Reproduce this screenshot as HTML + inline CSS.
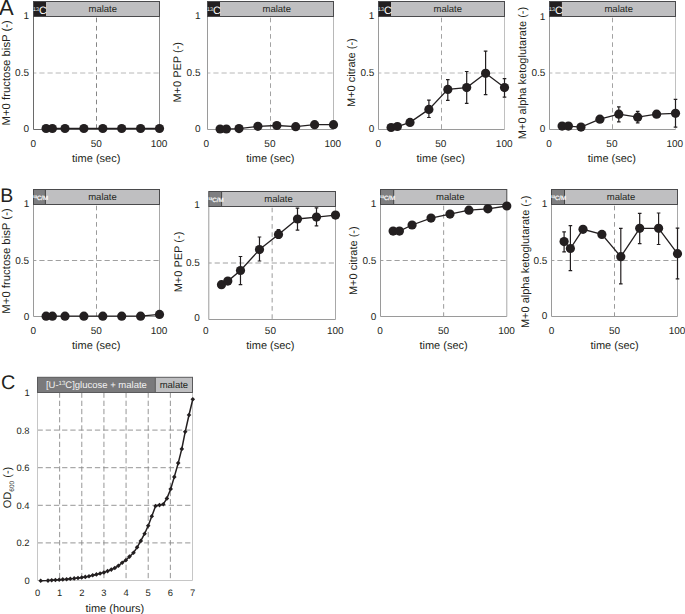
<!DOCTYPE html>
<html><head><meta charset="utf-8"><style>
html,body{margin:0;padding:0;background:#fff;}
body{width:685px;height:614px;overflow:hidden;}
svg{display:block;font-family:"Liberation Sans", sans-serif;text-rendering:geometricPrecision;}
</style></head><body>
<svg width="685" height="614" viewBox="0 0 685 614">
<rect width="685" height="614" fill="#fff"/>
<line x1="33.5" y1="73" x2="159.5" y2="73" stroke="#b8b8b8" stroke-width="1" stroke-dasharray="5.2 2.95" stroke-dashoffset="2.3"/>
<line x1="96.5" y1="17.7" x2="96.5" y2="129.5" stroke="#858585" stroke-width="1" stroke-dasharray="4.6 3.6"/>
<line x1="159.5" y1="16.5" x2="159.5" y2="129.5" stroke="#8a8a8a" stroke-width="1"/>
<polyline points="33.5,16.5 33.5,129.5 159.5,129.5" fill="none" stroke="#6a6a6a" stroke-width="1"/>
<rect x="33.5" y="1.5" width="126" height="15" fill="#bfbfc1"/>
<rect x="33.5" y="1.5" width="12.5" height="15" fill="#231f20"/>
<rect x="33.5" y="1.5" width="126" height="15" fill="none" stroke="#4a4a4c" stroke-width="1"/>
<text x="102.75" y="11.9" font-size="9.5" text-anchor="middle" fill="#231f20" >malate</text>
<text x="33.1" y="13.6" font-size="10.8" fill="#ffffff"><tspan font-size="5.4" dy="-2.9">13</tspan><tspan dy="2.9">C</tspan></text>
<text x="29" y="19.4" font-size="10" text-anchor="end" fill="#231f20" >1</text>
<text x="29" y="76.3" font-size="10" text-anchor="end" fill="#231f20" >0.5</text>
<text x="29" y="132.1" font-size="10" text-anchor="end" fill="#231f20" >0</text>
<text x="33.2" y="146.9" font-size="10" text-anchor="middle" fill="#231f20" >0</text>
<text x="96.2" y="146.9" font-size="10" text-anchor="middle" fill="#231f20" >50</text>
<text x="159.1" y="146.9" font-size="10" text-anchor="middle" fill="#231f20" >100</text>
<text x="96.2" y="162.4" font-size="11" text-anchor="middle" fill="#231f20" >time (sec)</text>
<text transform="translate(9.9,72.8) rotate(-90)" x="0" y="0" font-size="11.35" text-anchor="middle" fill="#231f20">M+0 fructose bisP (-)</text>
<polyline points="46.1,128.5 52.4,128.5 65,128.5 83.9,128.5 102.8,128.5 121.7,128.5 140.6,128.5 159.5,128.5" fill="none" stroke="#231f20" stroke-width="1.3"/>
<circle cx="46.1" cy="128.5" r="4.6" fill="#231f20"/>
<circle cx="52.4" cy="128.5" r="4.6" fill="#231f20"/>
<circle cx="65" cy="128.5" r="4.6" fill="#231f20"/>
<circle cx="83.9" cy="128.5" r="4.6" fill="#231f20"/>
<circle cx="102.8" cy="128.5" r="4.6" fill="#231f20"/>
<circle cx="121.7" cy="128.5" r="4.6" fill="#231f20"/>
<circle cx="140.6" cy="128.5" r="4.6" fill="#231f20"/>
<circle cx="159.5" cy="128.5" r="4.6" fill="#231f20"/>
<line x1="207.5" y1="73" x2="333.5" y2="73" stroke="#b8b8b8" stroke-width="1" stroke-dasharray="5.2 2.95" stroke-dashoffset="2.3"/>
<line x1="270.5" y1="17.7" x2="270.5" y2="129.5" stroke="#a2a2a2" stroke-width="1" stroke-dasharray="4.6 3.6"/>
<line x1="333.5" y1="16.5" x2="333.5" y2="129.5" stroke="#b8b8b8" stroke-width="1"/>
<polyline points="207.5,16.5 207.5,129.5 333.5,129.5" fill="none" stroke="#9a9a9a" stroke-width="1"/>
<rect x="207.5" y="1.5" width="126" height="15" fill="#bfbfc1"/>
<rect x="207.5" y="1.5" width="12.5" height="15" fill="#231f20"/>
<rect x="207.5" y="1.5" width="126" height="15" fill="none" stroke="#4a4a4c" stroke-width="1"/>
<text x="276.75" y="11.9" font-size="9.5" text-anchor="middle" fill="#231f20" >malate</text>
<text x="207.1" y="13.6" font-size="10.8" fill="#ffffff"><tspan font-size="5.4" dy="-2.9">13</tspan><tspan dy="2.9">C</tspan></text>
<text x="200.5" y="19.2" font-size="10" text-anchor="end" fill="#231f20" >1</text>
<text x="200.5" y="76.4" font-size="10" text-anchor="end" fill="#231f20" >0.5</text>
<text x="200.5" y="132.1" font-size="10" text-anchor="end" fill="#231f20" >0</text>
<text x="206.4" y="146.9" font-size="10" text-anchor="middle" fill="#231f20" >0</text>
<text x="269.9" y="146.9" font-size="10" text-anchor="middle" fill="#231f20" >50</text>
<text x="332.8" y="146.9" font-size="10" text-anchor="middle" fill="#231f20" >100</text>
<text x="270.4" y="162.4" font-size="11" text-anchor="middle" fill="#231f20" >time (sec)</text>
<text transform="translate(180.7,72.3) rotate(-90)" x="0" y="0" font-size="11" text-anchor="middle" fill="#231f20">M+0 PEP (-)</text>
<polyline points="220.1,129 226.4,129 239,128.6 257.9,126.3 276.8,125.5 295.7,126.7 314.6,124.7 333.5,124.7" fill="none" stroke="#231f20" stroke-width="1.3"/>
<circle cx="220.1" cy="129" r="4.6" fill="#231f20"/>
<circle cx="226.4" cy="129" r="4.6" fill="#231f20"/>
<circle cx="239" cy="128.6" r="4.6" fill="#231f20"/>
<circle cx="257.9" cy="126.3" r="4.6" fill="#231f20"/>
<circle cx="276.8" cy="125.5" r="4.6" fill="#231f20"/>
<circle cx="295.7" cy="126.7" r="4.6" fill="#231f20"/>
<circle cx="314.6" cy="124.7" r="4.6" fill="#231f20"/>
<circle cx="333.5" cy="124.7" r="4.6" fill="#231f20"/>
<line x1="378.5" y1="73" x2="504.5" y2="73" stroke="#b8b8b8" stroke-width="1" stroke-dasharray="5.2 2.95" stroke-dashoffset="2.3"/>
<line x1="441.5" y1="17.7" x2="441.5" y2="129.5" stroke="#a2a2a2" stroke-width="1" stroke-dasharray="4.6 3.6"/>
<line x1="504.5" y1="16.5" x2="504.5" y2="129.5" stroke="#c0c0c0" stroke-width="1"/>
<polyline points="378.5,16.5 378.5,129.5 504.5,129.5" fill="none" stroke="#9a9a9a" stroke-width="1"/>
<rect x="378.5" y="1.5" width="126" height="15" fill="#bfbfc1"/>
<rect x="378.5" y="1.5" width="12.5" height="15" fill="#231f20"/>
<rect x="378.5" y="1.5" width="126" height="15" fill="none" stroke="#4a4a4c" stroke-width="1"/>
<text x="447.75" y="11.9" font-size="9.5" text-anchor="middle" fill="#231f20" >malate</text>
<text x="378.1" y="13.6" font-size="10.8" fill="#ffffff"><tspan font-size="5.4" dy="-2.9">13</tspan><tspan dy="2.9">C</tspan></text>
<text x="374.4" y="19.2" font-size="10" text-anchor="end" fill="#231f20" >1</text>
<text x="374.4" y="76.4" font-size="10" text-anchor="end" fill="#231f20" >0.5</text>
<text x="374.4" y="132.1" font-size="10" text-anchor="end" fill="#231f20" >0</text>
<text x="378.3" y="146.9" font-size="10" text-anchor="middle" fill="#231f20" >0</text>
<text x="440.7" y="146.9" font-size="10" text-anchor="middle" fill="#231f20" >50</text>
<text x="504.2" y="146.9" font-size="10" text-anchor="middle" fill="#231f20" >100</text>
<text x="440.7" y="162.4" font-size="11" text-anchor="middle" fill="#231f20" >time (sec)</text>
<text transform="translate(355,72.6) rotate(-90)" x="0" y="0" font-size="11" text-anchor="middle" fill="#231f20">M+0 citrate (-)</text>
<polyline points="391.1,127.5 397.4,126.5 410,122.4 428.9,109.4 447.8,89.4 466.7,87.6 485.6,73.3 504.5,87.6" fill="none" stroke="#231f20" stroke-width="1.3"/>
<path d="M428.9 100.2V117.5M427.1 100.2H430.7M427.1 117.5H430.7" stroke="#231f20" stroke-width="1.2" fill="none"/>
<path d="M447.8 79.6V100.4M446 79.6H449.6M446 100.4H449.6" stroke="#231f20" stroke-width="1.2" fill="none"/>
<path d="M466.7 71.5V103.3M464.9 71.5H468.5M464.9 103.3H468.5" stroke="#231f20" stroke-width="1.2" fill="none"/>
<path d="M485.6 51.1V94.7M483.8 51.1H487.4M483.8 94.7H487.4" stroke="#231f20" stroke-width="1.2" fill="none"/>
<path d="M504.5 78.6V97.1M502.7 78.6H506.3M502.7 97.1H506.3" stroke="#231f20" stroke-width="1.2" fill="none"/>
<circle cx="391.1" cy="127.5" r="4.6" fill="#231f20"/>
<circle cx="397.4" cy="126.5" r="4.6" fill="#231f20"/>
<circle cx="410" cy="122.4" r="4.6" fill="#231f20"/>
<circle cx="428.9" cy="109.4" r="4.6" fill="#231f20"/>
<circle cx="447.8" cy="89.4" r="4.6" fill="#231f20"/>
<circle cx="466.7" cy="87.6" r="4.6" fill="#231f20"/>
<circle cx="485.6" cy="73.3" r="4.6" fill="#231f20"/>
<circle cx="504.5" cy="87.6" r="4.6" fill="#231f20"/>
<line x1="549.5" y1="73" x2="675.5" y2="73" stroke="#b8b8b8" stroke-width="1" stroke-dasharray="5.2 2.95" stroke-dashoffset="2.3"/>
<line x1="612.5" y1="17.7" x2="612.5" y2="129.5" stroke="#a2a2a2" stroke-width="1" stroke-dasharray="4.6 3.6"/>
<line x1="675.5" y1="16.5" x2="675.5" y2="129.5" stroke="#c0c0c0" stroke-width="1"/>
<polyline points="549.5,16.5 549.5,129.5 675.5,129.5" fill="none" stroke="#9a9a9a" stroke-width="1"/>
<rect x="549.5" y="1.5" width="126" height="15" fill="#bfbfc1"/>
<rect x="549.5" y="1.5" width="12.4" height="15" fill="#231f20"/>
<rect x="549.5" y="1.5" width="126" height="15" fill="none" stroke="#4a4a4c" stroke-width="1"/>
<text x="618.7" y="11.9" font-size="9.5" text-anchor="middle" fill="#231f20" >malate</text>
<text x="549.1" y="13.6" font-size="10.8" fill="#ffffff"><tspan font-size="5.4" dy="-2.9">13</tspan><tspan dy="2.9">C</tspan></text>
<text x="545.3" y="19.5" font-size="10" text-anchor="end" fill="#231f20" >1</text>
<text x="545.3" y="76.4" font-size="10" text-anchor="end" fill="#231f20" >0.5</text>
<text x="545.3" y="132.4" font-size="10" text-anchor="end" fill="#231f20" >0</text>
<text x="549" y="146.9" font-size="10" text-anchor="middle" fill="#231f20" >0</text>
<text x="611.9" y="146.9" font-size="10" text-anchor="middle" fill="#231f20" >50</text>
<text x="674.8" y="146.9" font-size="10" text-anchor="middle" fill="#231f20" >100</text>
<text x="611.9" y="162.4" font-size="11" text-anchor="middle" fill="#231f20" >time (sec)</text>
<text transform="translate(526.1,73) rotate(-90)" x="0" y="0" font-size="11" text-anchor="middle" fill="#231f20">M+0 alpha ketoglutarate (-)</text>
<polyline points="562.1,126.1 568.4,126.1 581,127.1 599.9,119.2 618.8,114.2 637.7,117.2 656.6,114.2 675.5,113.3" fill="none" stroke="#231f20" stroke-width="1.3"/>
<path d="M618.8 106.8V121.9M617 106.8H620.6M617 121.9H620.6" stroke="#231f20" stroke-width="1.2" fill="none"/>
<path d="M637.7 111.3V122.9M635.9 111.3H639.5M635.9 122.9H639.5" stroke="#231f20" stroke-width="1.2" fill="none"/>
<path d="M675.5 99.3V127.1M673.7 99.3H677.3M673.7 127.1H677.3" stroke="#231f20" stroke-width="1.2" fill="none"/>
<circle cx="562.1" cy="126.1" r="4.6" fill="#231f20"/>
<circle cx="568.4" cy="126.1" r="4.6" fill="#231f20"/>
<circle cx="581" cy="127.1" r="4.6" fill="#231f20"/>
<circle cx="599.9" cy="119.2" r="4.6" fill="#231f20"/>
<circle cx="618.8" cy="114.2" r="4.6" fill="#231f20"/>
<circle cx="637.7" cy="117.2" r="4.6" fill="#231f20"/>
<circle cx="656.6" cy="114.2" r="4.6" fill="#231f20"/>
<circle cx="675.5" cy="113.3" r="4.6" fill="#231f20"/>
<line x1="33.5" y1="260.5" x2="159.5" y2="260.5" stroke="#a0a0a0" stroke-width="1" stroke-dasharray="5.2 2.95" stroke-dashoffset="2.3"/>
<line x1="96.5" y1="205.7" x2="96.5" y2="316.5" stroke="#9a9a9a" stroke-width="1" stroke-dasharray="4.6 3.6"/>
<line x1="159.5" y1="204.5" x2="159.5" y2="316.5" stroke="#a8a8a8" stroke-width="1"/>
<polyline points="33.5,204.5 33.5,316.5 159.5,316.5" fill="none" stroke="#9a9a9a" stroke-width="1"/>
<rect x="33.5" y="189.5" width="126" height="15" fill="#bfbfc1"/>
<rect x="33.5" y="189.5" width="11.9" height="15" fill="#7f7f81"/>
<line x1="45.4" y1="189.5" x2="45.4" y2="204.5" stroke="#3a3a3a" stroke-width="0.9"/>
<rect x="33.5" y="189.5" width="126" height="15" fill="none" stroke="#4a4a4c" stroke-width="1"/>
<text x="102.45" y="199.9" font-size="9.5" text-anchor="middle" fill="#231f20" >malate</text>
<text x="32.9" y="199.7" font-size="6.2" fill="#ffffff" stroke="#ffffff" stroke-width="0.2"><tspan font-size="3.6" dy="-2">13</tspan><tspan dy="2">C/M</tspan></text>
<text x="29.2" y="206.9" font-size="10" text-anchor="end" fill="#231f20" >1</text>
<text x="29.2" y="264" font-size="10" text-anchor="end" fill="#231f20" >0.5</text>
<text x="29.2" y="319.5" font-size="10" text-anchor="end" fill="#231f20" >0</text>
<text x="33.2" y="334.2" font-size="10" text-anchor="middle" fill="#231f20" >0</text>
<text x="96.2" y="334.2" font-size="10" text-anchor="middle" fill="#231f20" >50</text>
<text x="159.1" y="334.2" font-size="10" text-anchor="middle" fill="#231f20" >100</text>
<text x="96.2" y="349.4" font-size="11" text-anchor="middle" fill="#231f20" >time (sec)</text>
<text transform="translate(9.9,261) rotate(-90)" x="0" y="0" font-size="11.35" text-anchor="middle" fill="#231f20">M+0 fructose bisP (-)</text>
<polyline points="46.1,316.2 52.4,316.2 65,316.2 83.9,316.2 102.8,316.2 121.7,316.2 140.6,316.2 159.5,314.4" fill="none" stroke="#231f20" stroke-width="1.3"/>
<circle cx="46.1" cy="316.2" r="4.6" fill="#231f20"/>
<circle cx="52.4" cy="316.2" r="4.6" fill="#231f20"/>
<circle cx="65" cy="316.2" r="4.6" fill="#231f20"/>
<circle cx="83.9" cy="316.2" r="4.6" fill="#231f20"/>
<circle cx="102.8" cy="316.2" r="4.6" fill="#231f20"/>
<circle cx="121.7" cy="316.2" r="4.6" fill="#231f20"/>
<circle cx="140.6" cy="316.2" r="4.6" fill="#231f20"/>
<circle cx="159.5" cy="314.4" r="4.6" fill="#231f20"/>
<line x1="208.8" y1="263" x2="335.5" y2="263" stroke="#a0a0a0" stroke-width="1" stroke-dasharray="5.2 2.95" stroke-dashoffset="2.3"/>
<line x1="272.15" y1="207.7" x2="272.15" y2="319.5" stroke="#9a9a9a" stroke-width="1" stroke-dasharray="4.6 3.6"/>
<line x1="335.5" y1="206.5" x2="335.5" y2="319.5" stroke="#a8a8a8" stroke-width="1"/>
<polyline points="208.8,206.5 208.8,319.5 335.5,319.5" fill="none" stroke="#9a9a9a" stroke-width="1"/>
<rect x="208.8" y="191.5" width="126.7" height="15" fill="#bfbfc1"/>
<rect x="208.8" y="191.5" width="12.8" height="15" fill="#7f7f81"/>
<line x1="221.6" y1="191.5" x2="221.6" y2="206.5" stroke="#3a3a3a" stroke-width="0.9"/>
<rect x="208.8" y="191.5" width="126.7" height="15" fill="none" stroke="#4a4a4c" stroke-width="1"/>
<text x="278.55" y="201.9" font-size="9.5" text-anchor="middle" fill="#231f20" >malate</text>
<text x="208.2" y="201.7" font-size="6.2" fill="#ffffff" stroke="#ffffff" stroke-width="0.2"><tspan font-size="3.6" dy="-2">13</tspan><tspan dy="2">C/M</tspan></text>
<text x="199.8" y="207.9" font-size="10" text-anchor="end" fill="#231f20" >1</text>
<text x="199.8" y="265.8" font-size="10" text-anchor="end" fill="#231f20" >0.5</text>
<text x="199.8" y="320.9" font-size="10" text-anchor="end" fill="#231f20" >0</text>
<text x="205.9" y="334.2" font-size="10" text-anchor="middle" fill="#231f20" >0</text>
<text x="270.4" y="334.2" font-size="10" text-anchor="middle" fill="#231f20" >50</text>
<text x="335.3" y="334.2" font-size="10" text-anchor="middle" fill="#231f20" >100</text>
<text x="270.4" y="349.4" font-size="11" text-anchor="middle" fill="#231f20" >time (sec)</text>
<text transform="translate(181.5,262) rotate(-90)" x="0" y="0" font-size="11" text-anchor="middle" fill="#231f20">M+0 PEP (-)</text>
<polyline points="221.47,284.7 227.81,281.1 240.48,270.5 259.48,249.6 278.49,234.4 297.49,219 316.5,217.1 335.5,215.1" fill="none" stroke="#231f20" stroke-width="1.3"/>
<path d="M240.48 256.5V284.7M238.68 256.5H242.28M238.68 284.7H242.28" stroke="#231f20" stroke-width="1.2" fill="none"/>
<path d="M259.48 237V261M257.68 237H261.28M257.68 261H261.28" stroke="#231f20" stroke-width="1.2" fill="none"/>
<path d="M278.49 229.5V238.4M276.69 229.5H280.29M276.69 238.4H280.29" stroke="#231f20" stroke-width="1.2" fill="none"/>
<path d="M297.49 208.2V230.1M295.69 208.2H299.29M295.69 230.1H299.29" stroke="#231f20" stroke-width="1.2" fill="none"/>
<path d="M316.5 207.8V225.9M314.69 207.8H318.3M314.69 225.9H318.3" stroke="#231f20" stroke-width="1.2" fill="none"/>
<circle cx="221.47" cy="284.7" r="4.6" fill="#231f20"/>
<circle cx="227.81" cy="281.1" r="4.6" fill="#231f20"/>
<circle cx="240.48" cy="270.5" r="4.6" fill="#231f20"/>
<circle cx="259.48" cy="249.6" r="4.6" fill="#231f20"/>
<circle cx="278.49" cy="234.4" r="4.6" fill="#231f20"/>
<circle cx="297.49" cy="219" r="4.6" fill="#231f20"/>
<circle cx="316.5" cy="217.1" r="4.6" fill="#231f20"/>
<circle cx="335.5" cy="215.1" r="4.6" fill="#231f20"/>
<line x1="380.5" y1="260.5" x2="506.8" y2="260.5" stroke="#a0a0a0" stroke-width="1" stroke-dasharray="5.2 2.95" stroke-dashoffset="2.3"/>
<line x1="443.65" y1="205.7" x2="443.65" y2="316.5" stroke="#9a9a9a" stroke-width="1" stroke-dasharray="4.6 3.6"/>
<line x1="506.8" y1="204.5" x2="506.8" y2="316.5" stroke="#a8a8a8" stroke-width="1"/>
<polyline points="380.5,204.5 380.5,316.5 506.8,316.5" fill="none" stroke="#9a9a9a" stroke-width="1"/>
<rect x="380.5" y="189.5" width="126.3" height="15" fill="#bfbfc1"/>
<rect x="380.5" y="189.5" width="13.2" height="15" fill="#7f7f81"/>
<line x1="393.7" y1="189.5" x2="393.7" y2="204.5" stroke="#3a3a3a" stroke-width="0.9"/>
<rect x="380.5" y="189.5" width="126.3" height="15" fill="none" stroke="#4a4a4c" stroke-width="1"/>
<text x="450.25" y="199.9" font-size="9.5" text-anchor="middle" fill="#231f20" >malate</text>
<text x="379.9" y="199.7" font-size="6.2" fill="#ffffff" stroke="#ffffff" stroke-width="0.2"><tspan font-size="3.6" dy="-2">13</tspan><tspan dy="2">C/M</tspan></text>
<text x="376.3" y="207.3" font-size="10" text-anchor="end" fill="#231f20" >1</text>
<text x="376.3" y="263.7" font-size="10" text-anchor="end" fill="#231f20" >0.5</text>
<text x="376.3" y="319.6" font-size="10" text-anchor="end" fill="#231f20" >0</text>
<text x="380.1" y="334.1" font-size="10" text-anchor="middle" fill="#231f20" >0</text>
<text x="443.6" y="334.1" font-size="10" text-anchor="middle" fill="#231f20" >50</text>
<text x="506.6" y="334.1" font-size="10" text-anchor="middle" fill="#231f20" >100</text>
<text x="443.6" y="349.3" font-size="11" text-anchor="middle" fill="#231f20" >time (sec)</text>
<text transform="translate(357,260.7) rotate(-90)" x="0" y="0" font-size="11" text-anchor="middle" fill="#231f20">M+0 citrate (-)</text>
<polyline points="393.13,231.1 399.44,231.1 412.07,225 431.02,218.1 449.97,214.1 468.91,210.2 487.86,208.8 506.8,206" fill="none" stroke="#231f20" stroke-width="1.3"/>
<circle cx="393.13" cy="231.1" r="4.6" fill="#231f20"/>
<circle cx="399.44" cy="231.1" r="4.6" fill="#231f20"/>
<circle cx="412.07" cy="225" r="4.6" fill="#231f20"/>
<circle cx="431.02" cy="218.1" r="4.6" fill="#231f20"/>
<circle cx="449.97" cy="214.1" r="4.6" fill="#231f20"/>
<circle cx="468.91" cy="210.2" r="4.6" fill="#231f20"/>
<circle cx="487.86" cy="208.8" r="4.6" fill="#231f20"/>
<circle cx="506.8" cy="206" r="4.6" fill="#231f20"/>
<line x1="551.5" y1="260.5" x2="677.5" y2="260.5" stroke="#a0a0a0" stroke-width="1" stroke-dasharray="5.2 2.95" stroke-dashoffset="2.3"/>
<line x1="614.5" y1="205.7" x2="614.5" y2="316.5" stroke="#9a9a9a" stroke-width="1" stroke-dasharray="4.6 3.6"/>
<line x1="677.5" y1="204.5" x2="677.5" y2="316.5" stroke="#a8a8a8" stroke-width="1"/>
<polyline points="551.5,204.5 551.5,316.5 677.5,316.5" fill="none" stroke="#9a9a9a" stroke-width="1"/>
<rect x="551.5" y="189.5" width="126" height="15" fill="#bfbfc1"/>
<rect x="551.5" y="189.5" width="13" height="15" fill="#7f7f81"/>
<line x1="564.5" y1="189.5" x2="564.5" y2="204.5" stroke="#3a3a3a" stroke-width="0.9"/>
<rect x="551.5" y="189.5" width="126" height="15" fill="none" stroke="#4a4a4c" stroke-width="1"/>
<text x="621" y="199.9" font-size="9.5" text-anchor="middle" fill="#231f20" >malate</text>
<text x="550.9" y="199.7" font-size="6.2" fill="#ffffff" stroke="#ffffff" stroke-width="0.2"><tspan font-size="3.6" dy="-2">13</tspan><tspan dy="2">C/M</tspan></text>
<text x="547.4" y="207.3" font-size="10" text-anchor="end" fill="#231f20" >1</text>
<text x="547.4" y="264.3" font-size="10" text-anchor="end" fill="#231f20" >0.5</text>
<text x="547.4" y="319.3" font-size="10" text-anchor="end" fill="#231f20" >0</text>
<text x="551.6" y="334.1" font-size="10" text-anchor="middle" fill="#231f20" >0</text>
<text x="614.6" y="334.1" font-size="10" text-anchor="middle" fill="#231f20" >50</text>
<text x="677.1" y="334.1" font-size="10" text-anchor="middle" fill="#231f20" >100</text>
<text x="614.6" y="349.3" font-size="11" text-anchor="middle" fill="#231f20" >time (sec)</text>
<text transform="translate(529,261.9) rotate(-90)" x="0" y="0" font-size="11" text-anchor="middle" fill="#231f20">M+0 alpha ketoglutarate (-)</text>
<polyline points="564.1,241.6 570.4,248.5 583,229.3 601.9,234.4 620.8,256.7 639.7,228.3 658.6,228.3 677.5,253.7" fill="none" stroke="#231f20" stroke-width="1.3"/>
<path d="M564.1 231.8V251.8M562.3 231.8H565.9M562.3 251.8H565.9" stroke="#231f20" stroke-width="1.2" fill="none"/>
<path d="M570.4 225.7V270.6M568.6 225.7H572.2M568.6 270.6H572.2" stroke="#231f20" stroke-width="1.2" fill="none"/>
<path d="M620.8 228.3V283.9M619 228.3H622.6M619 283.9H622.6" stroke="#231f20" stroke-width="1.2" fill="none"/>
<path d="M639.7 213.4V243.6M637.9 213.4H641.5M637.9 243.6H641.5" stroke="#231f20" stroke-width="1.2" fill="none"/>
<path d="M658.6 213V244.5M656.8 213H660.4M656.8 244.5H660.4" stroke="#231f20" stroke-width="1.2" fill="none"/>
<path d="M677.5 228.1V278.8M675.7 228.1H679.3M675.7 278.8H679.3" stroke="#231f20" stroke-width="1.2" fill="none"/>
<circle cx="564.1" cy="241.6" r="4.6" fill="#231f20"/>
<circle cx="570.4" cy="248.5" r="4.6" fill="#231f20"/>
<circle cx="583" cy="229.3" r="4.6" fill="#231f20"/>
<circle cx="601.9" cy="234.4" r="4.6" fill="#231f20"/>
<circle cx="620.8" cy="256.7" r="4.6" fill="#231f20"/>
<circle cx="639.7" cy="228.3" r="4.6" fill="#231f20"/>
<circle cx="658.6" cy="228.3" r="4.6" fill="#231f20"/>
<circle cx="677.5" cy="253.7" r="4.6" fill="#231f20"/>
<text x="-1.1" y="14.6" font-size="22" text-anchor="start" fill="#231f20" >A</text>
<text x="0.2" y="202" font-size="19.5" text-anchor="start" fill="#231f20" >B</text>
<text x="0.9" y="389.2" font-size="19.8" text-anchor="start" fill="#231f20" >C</text>
<line x1="59.64" y1="392.5" x2="59.64" y2="580.5" stroke="#8a8a8a" stroke-width="0.9" stroke-dasharray="5.3 2.9"/>
<line x1="81.79" y1="392.5" x2="81.79" y2="580.5" stroke="#8a8a8a" stroke-width="0.9" stroke-dasharray="5.3 2.9"/>
<line x1="103.93" y1="392.5" x2="103.93" y2="580.5" stroke="#8a8a8a" stroke-width="0.9" stroke-dasharray="5.3 2.9"/>
<line x1="126.07" y1="392.5" x2="126.07" y2="580.5" stroke="#8a8a8a" stroke-width="0.9" stroke-dasharray="5.3 2.9"/>
<line x1="148.21" y1="392.5" x2="148.21" y2="580.5" stroke="#8a8a8a" stroke-width="0.9" stroke-dasharray="5.3 2.9"/>
<line x1="170.36" y1="392.5" x2="170.36" y2="580.5" stroke="#8a8a8a" stroke-width="0.9" stroke-dasharray="5.3 2.9"/>
<line x1="37.5" y1="542.9" x2="192.5" y2="542.9" stroke="#8a8a8a" stroke-width="0.9" stroke-dasharray="5.3 2.9"/>
<line x1="37.5" y1="505.3" x2="192.5" y2="505.3" stroke="#8a8a8a" stroke-width="0.9" stroke-dasharray="5.3 2.9"/>
<line x1="37.5" y1="467.7" x2="192.5" y2="467.7" stroke="#8a8a8a" stroke-width="0.9" stroke-dasharray="5.3 2.9"/>
<line x1="37.5" y1="430.1" x2="192.5" y2="430.1" stroke="#8a8a8a" stroke-width="0.9" stroke-dasharray="5.3 2.9"/>
<polyline points="37.5,392.5 37.5,580.5 192.5,580.5 192.5,392.5" fill="none" stroke="#c6c6c6" stroke-width="1"/>
<rect x="37.5" y="377.3" width="155" height="15.2" fill="#bfbfc1"/>
<rect x="37.5" y="377.3" width="117.8" height="15.2" fill="#7a7a7c"/>
<line x1="155.3" y1="377.3" x2="155.3" y2="392.5" stroke="#555" stroke-width="0.9"/>
<rect x="37.5" y="377.3" width="155" height="15.2" fill="none" stroke="#5a5a5c" stroke-width="1"/>
<text x="96.4" y="388.3" font-size="9.5" text-anchor="middle" fill="#f2f2f2">[U-<tspan font-size="6" dy="-3.3">13</tspan><tspan dy="3.3">C]glucose + malate</tspan></text>
<text x="173.9" y="388.3" font-size="9.5" text-anchor="middle" fill="#231f20" >malate</text>
<text x="37.5" y="595.9" font-size="9.4" text-anchor="middle" fill="#231f20" >0</text>
<text x="59.64" y="595.9" font-size="9.4" text-anchor="middle" fill="#231f20" >1</text>
<text x="81.79" y="595.9" font-size="9.4" text-anchor="middle" fill="#231f20" >2</text>
<text x="103.93" y="595.9" font-size="9.4" text-anchor="middle" fill="#231f20" >3</text>
<text x="126.07" y="595.9" font-size="9.4" text-anchor="middle" fill="#231f20" >4</text>
<text x="148.21" y="595.9" font-size="9.4" text-anchor="middle" fill="#231f20" >5</text>
<text x="170.36" y="595.9" font-size="9.4" text-anchor="middle" fill="#231f20" >6</text>
<text x="192.5" y="595.9" font-size="9.4" text-anchor="middle" fill="#231f20" >7</text>
<text x="29.6" y="583.9" font-size="9.4" text-anchor="end" fill="#231f20" >0</text>
<text x="29.6" y="546.3" font-size="9.4" text-anchor="end" fill="#231f20" >0.2</text>
<text x="29.6" y="508.7" font-size="9.4" text-anchor="end" fill="#231f20" >0.4</text>
<text x="29.6" y="471.1" font-size="9.4" text-anchor="end" fill="#231f20" >0.6</text>
<text x="29.6" y="433.5" font-size="9.4" text-anchor="end" fill="#231f20" >0.8</text>
<text x="29.6" y="395.9" font-size="9.4" text-anchor="end" fill="#231f20" >1</text>
<text x="114.8" y="611.7" font-size="11" text-anchor="middle" fill="#231f20" >time (hours)</text>
<text transform="translate(11.2,487.5) rotate(-90)" font-size="11" text-anchor="middle" fill="#231f20">OD<tspan font-size="6.5" dy="2.5">600</tspan><tspan dy="-2.5"> (-)</tspan></text>
<polyline points="40.7,580.8 48,580.6 51.7,580.3 55.4,580 59.2,579.7 62.8,579.4 66.6,579.3 70.3,578.7 74.2,578.4 78,578 81.7,577.5 85.3,576.9 89,576.2 92.7,575.3 96.4,574.4 100.1,573.5 103.9,572.4 107.6,571.1 111.3,569.6 114.8,568 118.4,565.8 122.2,562.7 125.8,560.2 129.5,556.6 133.5,552.7 137.1,547.3 140.8,540.9 144.6,533.7 148.2,525.8 151.8,516.2 155.6,506 159.5,505.1 163.3,504.2 166.9,498.4 170.7,489 174.3,476.9 178.2,463.1 181.8,448.9 185.2,431.8 189,415 192.8,399.2" fill="none" stroke="#231f20" stroke-width="1.5"/>
<path d="M40.7 578.5L43 580.8L40.7 583.1L38.4 580.8Z" fill="#231f20"/>
<path d="M48 578.3L50.3 580.6L48 582.9L45.7 580.6Z" fill="#231f20"/>
<path d="M51.7 578L54 580.3L51.7 582.6L49.4 580.3Z" fill="#231f20"/>
<path d="M55.4 577.7L57.7 580L55.4 582.3L53.1 580Z" fill="#231f20"/>
<path d="M59.2 577.4L61.5 579.7L59.2 582L56.9 579.7Z" fill="#231f20"/>
<path d="M62.8 577.1L65.1 579.4L62.8 581.7L60.5 579.4Z" fill="#231f20"/>
<path d="M66.6 577L68.9 579.3L66.6 581.6L64.3 579.3Z" fill="#231f20"/>
<path d="M70.3 576.4L72.6 578.7L70.3 581L68 578.7Z" fill="#231f20"/>
<path d="M74.2 576.1L76.5 578.4L74.2 580.7L71.9 578.4Z" fill="#231f20"/>
<path d="M78 575.7L80.3 578L78 580.3L75.7 578Z" fill="#231f20"/>
<path d="M81.7 575.2L84 577.5L81.7 579.8L79.4 577.5Z" fill="#231f20"/>
<path d="M85.3 574.6L87.6 576.9L85.3 579.2L83 576.9Z" fill="#231f20"/>
<path d="M89 573.9L91.3 576.2L89 578.5L86.7 576.2Z" fill="#231f20"/>
<path d="M92.7 573L95 575.3L92.7 577.6L90.4 575.3Z" fill="#231f20"/>
<path d="M96.4 572.1L98.7 574.4L96.4 576.7L94.1 574.4Z" fill="#231f20"/>
<path d="M100.1 571.2L102.4 573.5L100.1 575.8L97.8 573.5Z" fill="#231f20"/>
<path d="M103.9 570.1L106.2 572.4L103.9 574.7L101.6 572.4Z" fill="#231f20"/>
<path d="M107.6 568.8L109.9 571.1L107.6 573.4L105.3 571.1Z" fill="#231f20"/>
<path d="M111.3 567.3L113.6 569.6L111.3 571.9L109 569.6Z" fill="#231f20"/>
<path d="M114.8 565.7L117.1 568L114.8 570.3L112.5 568Z" fill="#231f20"/>
<path d="M118.4 563.5L120.7 565.8L118.4 568.1L116.1 565.8Z" fill="#231f20"/>
<path d="M122.2 560.4L124.5 562.7L122.2 565L119.9 562.7Z" fill="#231f20"/>
<path d="M125.8 557.9L128.1 560.2L125.8 562.5L123.5 560.2Z" fill="#231f20"/>
<path d="M129.5 554.3L131.8 556.6L129.5 558.9L127.2 556.6Z" fill="#231f20"/>
<path d="M133.5 550.4L135.8 552.7L133.5 555L131.2 552.7Z" fill="#231f20"/>
<path d="M137.1 545L139.4 547.3L137.1 549.6L134.8 547.3Z" fill="#231f20"/>
<path d="M140.8 538.6L143.1 540.9L140.8 543.2L138.5 540.9Z" fill="#231f20"/>
<path d="M144.6 531.4L146.9 533.7L144.6 536L142.3 533.7Z" fill="#231f20"/>
<path d="M148.2 523.5L150.5 525.8L148.2 528.1L145.9 525.8Z" fill="#231f20"/>
<path d="M151.8 513.9L154.1 516.2L151.8 518.5L149.5 516.2Z" fill="#231f20"/>
<path d="M155.6 503.7L157.9 506L155.6 508.3L153.3 506Z" fill="#231f20"/>
<path d="M159.5 502.8L161.8 505.1L159.5 507.4L157.2 505.1Z" fill="#231f20"/>
<path d="M163.3 501.9L165.6 504.2L163.3 506.5L161 504.2Z" fill="#231f20"/>
<path d="M166.9 496.1L169.2 498.4L166.9 500.7L164.6 498.4Z" fill="#231f20"/>
<path d="M170.7 486.7L173 489L170.7 491.3L168.4 489Z" fill="#231f20"/>
<path d="M174.3 474.6L176.6 476.9L174.3 479.2L172 476.9Z" fill="#231f20"/>
<path d="M178.2 460.8L180.5 463.1L178.2 465.4L175.9 463.1Z" fill="#231f20"/>
<path d="M181.8 446.6L184.1 448.9L181.8 451.2L179.5 448.9Z" fill="#231f20"/>
<path d="M185.2 429.5L187.5 431.8L185.2 434.1L182.9 431.8Z" fill="#231f20"/>
<path d="M189 412.7L191.3 415L189 417.3L186.7 415Z" fill="#231f20"/>
<path d="M192.8 396.9L195.1 399.2L192.8 401.5L190.5 399.2Z" fill="#231f20"/>
</svg>
</body></html>
